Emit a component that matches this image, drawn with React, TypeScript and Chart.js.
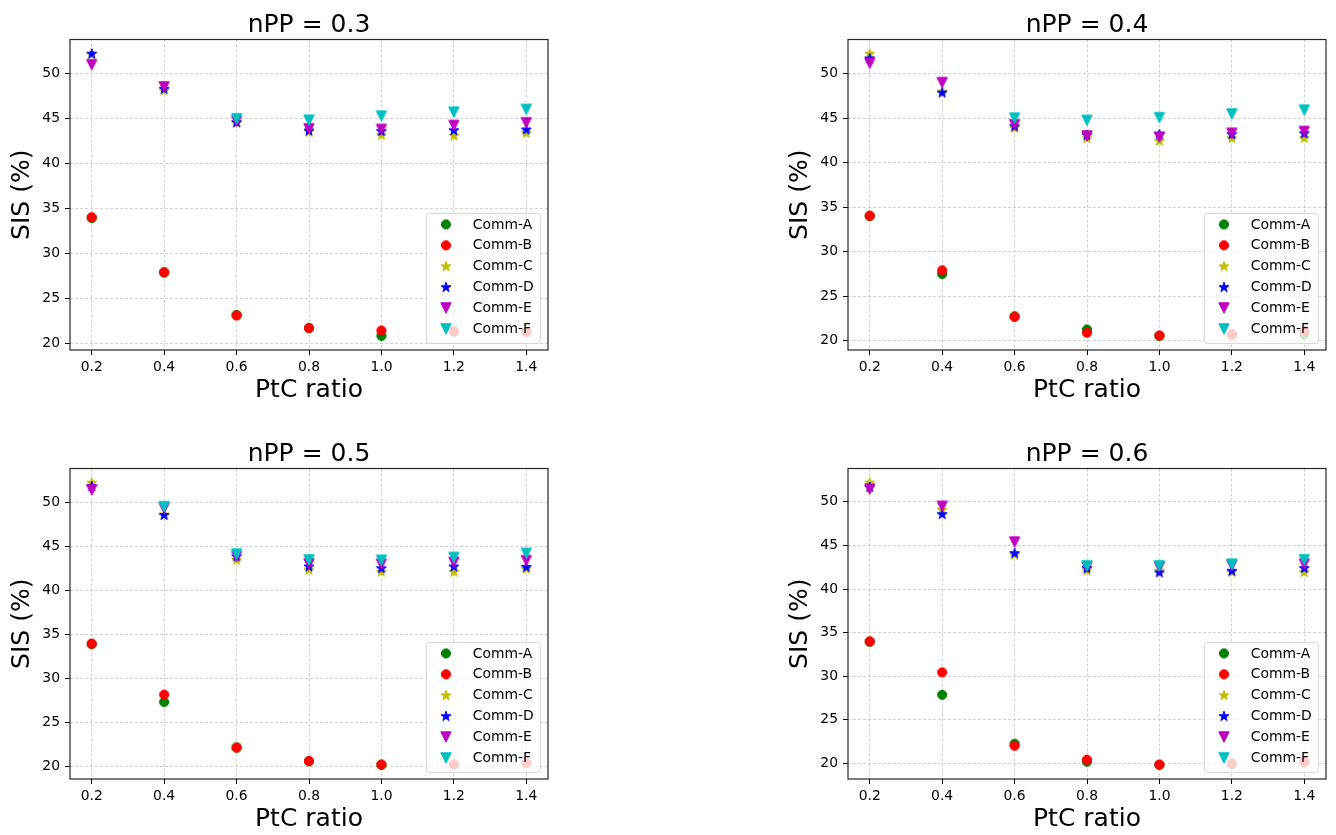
import React, { useEffect, useRef } from "react";
import { Chart, registerables } from "chart.js";

Chart.register(...registerables);

// ---------------- data ----------------
const ptcRatio = [0.2, 0.4, 0.6, 0.8, 1.0, 1.2, 1.4];
const seriesNames = ["Comm-A", "Comm-B", "Comm-C", "Comm-D", "Comm-E", "Comm-F"];
const panelTitles = ["nPP = 0.3", "nPP = 0.4", "nPP = 0.5", "nPP = 0.6"];

// nPP = 0.3
const npp03A = [33.95, 27.9, 23.2, 21.75, 20.88, 21.35, 21.3];
const npp03B = [34.05, 27.95, 23.15, 21.75, 21.48, 21.4, 21.3];
const npp03C = [52.15, 48.1, 44.5, 43.52, 43.15, 43.1, 43.4];
const npp03D = [52.2, 48.3, 44.6, 43.67, 43.6, 43.7, 43.78];
const npp03E = [50.96, 48.5, 44.7, 43.85, 43.78, 44.22, 44.52];
const npp03F = [null, null, 44.97, 44.8, 45.26, 45.7, 46.0];

// nPP = 0.4
const npp04A = [34.0, 27.5, 22.75, 21.27, 20.55, 20.7, 20.71];
const npp04B = [34.05, 27.92, 22.69, 20.9, 20.6, 20.71, 21.09];
const npp04C = [52.25, 48.0, 43.9, 42.75, 42.45, 42.76, 42.76];
const npp04D = [51.72, 47.87, 44.1, 43.1, 43.2, 43.2, 43.3];
const npp04E = [51.16, 48.99, 44.25, 43.0, 42.86, 43.3, 43.5];
const npp04F = [null, null, 45.0, 44.75, 45.05, 45.47, 45.9];

// nPP = 0.5
const npp05A = [33.9, 27.35, 22.2, 20.62, 20.22, 20.25, 20.43];
const npp05B = [33.96, 28.18, 22.18, 20.66, 20.27, 20.28, 20.47];
const npp05C = [52.2, 48.6, 43.45, 42.33, 42.1, 42.1, 42.43];
const npp05D = [51.8, 48.53, 43.85, 42.7, 42.5, 42.7, 42.65];
const npp05E = [51.36, 49.3, 43.82, 43.0, 42.95, 43.16, 43.36];
const npp05F = [null, 49.47, 44.1, 43.44, 43.4, 43.72, 44.18];

// nPP = 0.6
const npp06A = [33.95, 27.87, 22.26, 20.19, 19.83, 19.93, 20.12];
const npp06B = [34.0, 30.44, 22.03, 20.42, 19.87, 19.98, 20.18];
const npp06C = [52.2, 49.1, 43.93, 42.13, 42.1, 41.94, 41.94];
const npp06D = [51.7, 48.59, 44.12, 42.4, 41.9, 42.09, 42.4];
const npp06E = [51.45, 49.47, 45.38, 42.5, 42.5, 42.7, 42.85];
const npp06F = [null, null, null, 42.66, 42.66, 42.85, 43.35];

const panelSeries = [
  [npp03A, npp03B, npp03C, npp03D, npp03E, npp03F],
  [npp04A, npp04B, npp04C, npp04D, npp04E, npp04F],
  [npp05A, npp05B, npp05C, npp05D, npp05E, npp05F],
  [npp06A, npp06B, npp06C, npp06D, npp06E, npp06F],
];

// ---------------- styles ----------------
const FONT = "DejaVu Sans";
const SMALL = 13.9;
const LARGE = 25;
const seriesColors = ["#008000", "#ff0000", "#bfbf00", "#0000ff", "#bf00bf", "#00bfbf"];
const seriesMarkers = ["circle", "circle", "star", "star", "tri", "tri"];
const panelPos = [
  { left: 0, top: 0 },
  { left: 778, top: 0 },
  { left: 0, top: 429 },
  { left: 778, top: 429 },
];
const CW = 556;
const CH = 410;

function makeMarker(shape: string, color: string): HTMLCanvasElement {
  const c = document.createElement("canvas");
  c.width = 14;
  c.height = 14;
  const ctx = c.getContext("2d")!;
  ctx.fillStyle = color;
  ctx.strokeStyle = color;
  ctx.lineWidth = 1;
  ctx.lineJoin = "round";
  ctx.beginPath();
  if (shape === "circle") {
    ctx.arc(7, 7, 4.6, 0, Math.PI * 2);
  } else if (shape === "star") {
    const R = 5.3;
    const r = R * 0.381966;
    for (let k = 0; k < 10; k++) {
      const rad = k % 2 === 0 ? R : r;
      const a = -Math.PI / 2 + (k * Math.PI) / 5;
      const px = 7 + rad * Math.cos(a);
      const py = 7.3 + rad * Math.sin(a);
      if (k === 0) ctx.moveTo(px, py);
      else ctx.lineTo(px, py);
    }
    ctx.closePath();
  } else {
    ctx.moveTo(7, 12.2);
    ctx.lineTo(1.8, 1.8);
    ctx.lineTo(12.2, 1.8);
    ctx.closePath();
  }
  ctx.fill();
  ctx.stroke();
  return c;
}

const frameLegendPlugin = {
  id: "frameLegend",
  afterDatasetsDraw(chart: any) {
    const ctx = chart.ctx as CanvasRenderingContext2D;
    const ca = chart.chartArea;
    const opts = chart.options.plugins.frameLegend;
    const imgs = opts.images as HTMLCanvasElement[];
    ctx.save();
    // full frame (spines)
    ctx.strokeStyle = "#262626";
    ctx.lineWidth = 1.2;
    ctx.strokeRect(ca.left, ca.top, ca.right - ca.left, ca.bottom - ca.top);

    // axes title, centred over the plot area
    ctx.font = `${LARGE}px "${FONT}"`;
    ctx.textAlign = "center";
    ctx.textBaseline = "alphabetic";
    ctx.fillStyle = "#000";
    ctx.fillText(opts.title, (ca.left + ca.right) / 2, ca.top - 7.5);

    // legend box
    const w = 114;
    const h = 130;
    const x0 = ca.right - 7.7 - w;
    const y0 = ca.bottom - 6.6 - h;
    const rr = 3;
    ctx.beginPath();
    ctx.moveTo(x0 + rr, y0);
    ctx.lineTo(x0 + w - rr, y0);
    ctx.quadraticCurveTo(x0 + w, y0, x0 + w, y0 + rr);
    ctx.lineTo(x0 + w, y0 + h - rr);
    ctx.quadraticCurveTo(x0 + w, y0 + h, x0 + w - rr, y0 + h);
    ctx.lineTo(x0 + rr, y0 + h);
    ctx.quadraticCurveTo(x0, y0 + h, x0, y0 + h - rr);
    ctx.lineTo(x0, y0 + rr);
    ctx.quadraticCurveTo(x0, y0, x0 + rr, y0);
    ctx.closePath();
    ctx.fillStyle = "rgba(255,255,255,0.8)";
    ctx.fill();
    ctx.strokeStyle = "rgba(204,204,204,0.8)";
    ctx.lineWidth = 1;
    ctx.stroke();

    ctx.font = `${SMALL}px "${FONT}"`;
    ctx.textBaseline = "middle";
    ctx.textAlign = "left";
    ctx.fillStyle = "#000";
    for (let i = 0; i < seriesNames.length; i++) {
      const cy = y0 + 11 + i * 20.9;
      ctx.drawImage(imgs[i], x0 + 19.7 - 7, cy - 7);
      ctx.fillText(seriesNames[i], x0 + 46.4, cy + 0.5);
    }
    ctx.restore();
  },
};

function Panel({ index }: { index: number }) {
  const ref = useRef<HTMLCanvasElement>(null);
  useEffect(() => {
    const series = panelSeries[index];
    const imgs = seriesColors.map((c, i) => makeMarker(seriesMarkers[i], c));
    const all: number[] = [];
    series.forEach((s) => s.forEach((v) => { if (v !== null) all.push(v as number); }));
    const mn = Math.min(...all);
    const mx = Math.max(...all);
    const yPad = (mx - mn) * 0.05;
    const xMin = Math.min(...ptcRatio);
    const xMax = Math.max(...ptcRatio);
    const xPad = (xMax - xMin) * 0.05;
    const tickFont = { family: FONT, size: SMALL };

    const gridOpts = {
      color: "#c4c4c4",
      lineWidth: 0.8,
      tickColor: "#000",
      tickLength: 5,
      tickWidth: 1,
      tickBorderDash: [],
    };

    const chart = new Chart(ref.current!, {
      type: "scatter",
      data: {
        datasets: series.map((vals, i) => ({
          label: seriesNames[i],
          data: ptcRatio
            .map((x, j) => ({ x, y: vals[j] }))
            .filter((p) => p.y !== null) as any,
          pointStyle: imgs[i] as any,
          pointRadius: 5,
          pointHoverRadius: 5,
          backgroundColor: seriesColors[i],
          borderColor: seriesColors[i],
          showLine: false,
          order: series.length - i,
        })),
      },
      options: {
        responsive: false,
        animation: false,
        devicePixelRatio: 1,
        events: [],
        layout: { padding: { left: 0, right: 8, top: 39.5, bottom: 0 } },
        plugins: {
          legend: { display: false },
          tooltip: { enabled: false },
          title: { display: false },
          frameLegend: { images: imgs, title: panelTitles[index] },
        } as any,
        scales: {
          x: {
            type: "linear",
            min: xMin - xPad,
            max: xMax + xPad,
            afterFit: (s: any) => { s.height = 60; },
            ticks: {
              stepSize: 0.2,
              includeBounds: false,
              autoSkip: false,
              maxRotation: 0,
              color: "#000",
              font: tickFont,
              padding: 4,
              callback: (v: any) => Number(v).toFixed(1),
            },
            grid: gridOpts,
            border: { display: false, dash: [3, 2] },
            title: {
              display: true,
              text: "PtC ratio",
              color: "#000",
              font: { family: FONT, size: LARGE },
              padding: 4.5,
            },
          },
          y: {
            type: "linear",
            min: mn - yPad,
            max: mx + yPad,
            afterFit: (s: any) => { s.width = 70; },
            ticks: {
              stepSize: 5,
              includeBounds: false,
              autoSkip: false,
              color: "#000",
              font: tickFont,
              padding: 5,
              callback: (v: any) => String(Math.round(Number(v))),
            },
            grid: gridOpts,
            border: { display: false, dash: [3, 2] },
            title: {
              display: true,
              text: "SIS (%)",
              color: "#000",
              font: { family: FONT, size: LARGE },
              padding: 7,
            },
          },
        },
      } as any,
      plugins: [frameLegendPlugin],
    });
    return () => chart.destroy();
  }, [index]);
  const pos = panelPos[index];
  return (
    <canvas
      ref={ref}
      width={CW}
      height={CH}
      style={{ position: "absolute", left: pos.left, top: pos.top, width: CW, height: CH }}
    />
  );
}

export default function App() {
  return (
    <div
      style={{
        position: "fixed",
        left: 0,
        top: 0,
        width: 1336,
        height: 835,
        overflow: "hidden",
        background: "#fff",
      }}
    >
      {[0, 1, 2, 3].map((i) => (
        <Panel key={i} index={i} />
      ))}
    </div>
  );
}
